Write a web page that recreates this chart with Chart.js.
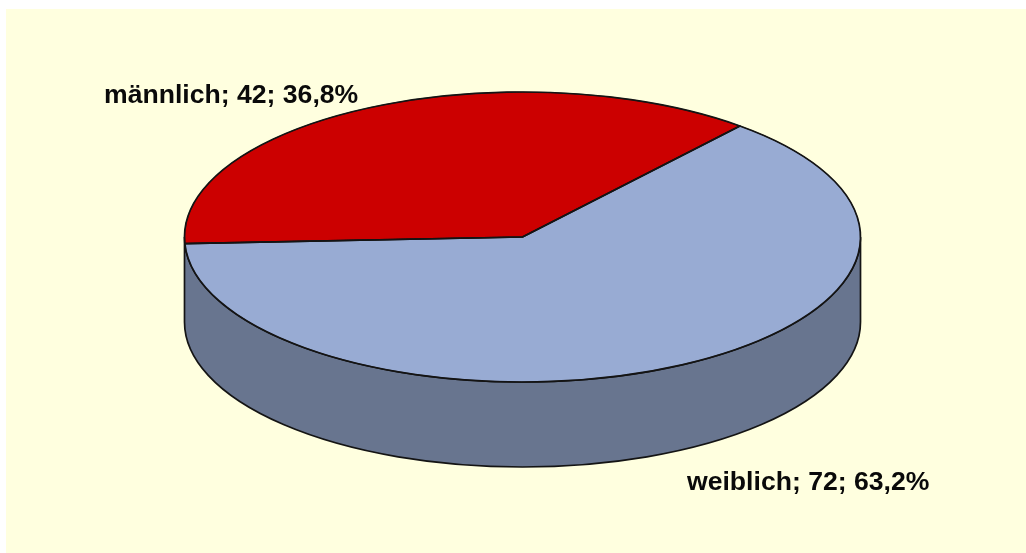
<!DOCTYPE html>
<html>
<head>
<meta charset="utf-8">
<title>Geschlecht</title>
<script src="https://cdn.jsdelivr.net/npm/chart.js@4/dist/chart.umd.js"></script>
<style>
html, body { margin: 0; padding: 0; background: #ffffff; }
#wrap { position: absolute; left: 0; top: 0; width: 1026px; height: 553px; overflow: hidden; }
#panel { position: absolute; left: 6px; top: 9px; right: 0; bottom: 0; background: #ffffdf; }
#pieData { position: absolute; left: 0; top: 0; }
</style>
</head>
<body>
<div id="wrap">
<div id="panel"></div>
<canvas id="pieData" width="1026" height="553"></canvas>
</div>
<script>
var categories = ['männlich', 'weiblich'];
var counts = [42, 72];
var sliceColors = ['#cc0000', '#98abd3'];
var sideColors = ['#8e0000', '#68758f'];

var squash = 145 / 338;
var depth = 85;
var lineColor = '#141414';

function labelText(i)
{
    var total = counts.reduce(function (a, b) { return a + b; }, 0);
    var pct = (counts[i] / total * 100).toFixed(1).replace('.', ',');
    return categories[i] + '; ' + counts[i] + '; ' + pct + '%';
}

// the pie is flattened with a transform, the side wall goes under it
var tiltPlugin = {
    id: 'tilt',
    beforeDatasetsDraw: function (chart) {
        var ctx = chart.ctx;
        var arcs = chart.getDatasetMeta(0).data;
        var cx = arcs[0].x, cy = arcs[0].y;

        arcs.forEach(function (arc, i) {
            var r = arc.outerRadius;
            // only the front half of the rim can be seen
            if (arc.endAngle <= 0) return;
            var a0 = Math.max(arc.startAngle, 0);
            var a1 = Math.PI;
            ctx.save();
            ctx.beginPath();
            ctx.ellipse(cx, cy + depth, r, r * squash, 0, a0, a1);
            ctx.lineTo(cx - r, cy);
            ctx.ellipse(cx, cy, r, r * squash, 0, a1, a0, true);
            ctx.closePath();
            ctx.fillStyle = sideColors[i];
            ctx.fill();
            ctx.lineWidth = 1.7;
            ctx.strokeStyle = lineColor;
            ctx.stroke();
            ctx.restore();
        });

        ctx.save();
        ctx.translate(cx, cy);
        ctx.scale(1, squash);
        ctx.translate(-cx, -cy);
    },
    afterDatasetsDraw: function (chart) {
        var ctx = chart.ctx;
        ctx.restore();

        // outlines again without the flattening, else flat lines get too thin
        var arcs = chart.getDatasetMeta(0).data;
        ctx.save();
        ctx.lineWidth = 1.7;
        ctx.strokeStyle = lineColor;
        ctx.lineJoin = 'round';
        arcs.forEach(function (arc) {
            var r = arc.outerRadius;
            ctx.beginPath();
            ctx.moveTo(arc.x, arc.y);
            ctx.ellipse(arc.x, arc.y, r, r * squash, 0, arc.startAngle, arc.endAngle);
            ctx.closePath();
            ctx.stroke();
        });
        ctx.restore();

        ctx.save();
        ctx.font = 'bold 26.6px "Liberation Sans", Arial, sans-serif';
        ctx.fillStyle = '#0a0a0a';
        ctx.textBaseline = 'alphabetic';
        ctx.fillText(labelText(0), 104, 103);
        ctx.fillText(labelText(1), 687, 490);
        ctx.restore();
    }
};

var ctx = document.getElementById('pieData').getContext('2d');
var chart = new Chart(ctx, {
    type: 'pie',
    data: {
        labels: categories,
        datasets: [{
            data: counts,
            backgroundColor: sliceColors,
            borderColor: lineColor,
            borderWidth: 1,
            radius: 338
        }]
    },
    options: {
        responsive: false,
        animation: false,
        rotation: -92.6,
        layout: { padding: { left: 19, right: 0, top: 0, bottom: 79 } },
        plugins: {
            legend: { display: false },
            tooltip: { enabled: false }
        }
    },
    plugins: [tiltPlugin]
});
</script>
</body>
</html>
